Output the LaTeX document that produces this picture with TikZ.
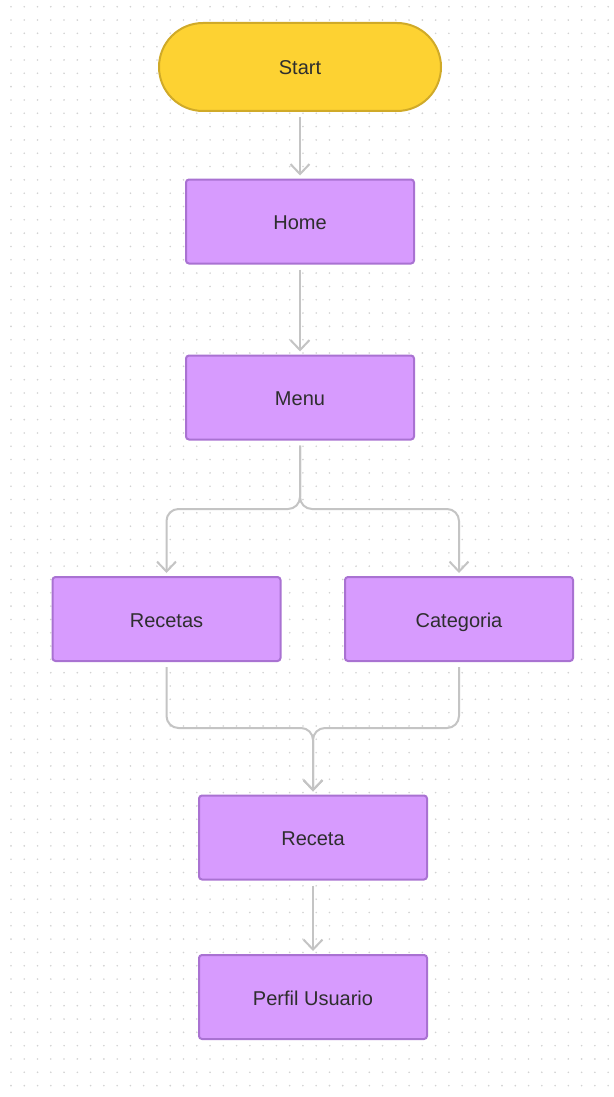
\documentclass[tikz,border=0pt]{standalone}
\usepackage{fontspec}
\setmainfont{Liberation Sans}
\usetikzlibrary{arrows.meta}
\definecolor{startfill}{HTML}{FDD232}
\definecolor{startline}{HTML}{D0AA28}
\definecolor{boxfill}{HTML}{D79BFE}
\definecolor{boxline}{HTML}{A972D2}
\definecolor{linkgray}{HTML}{C4C4C4}
\definecolor{dotgray}{HTML}{D2D2D2}
\definecolor{labelgray}{HTML}{2E2E2E}
\tikzset{
  labeltext/.style={font=\fontsize{20}{24}\selectfont, text=labelgray,
    text height=16pt, text depth=0pt},
  stepbox/.style={draw=boxline, fill=boxfill, line width=2pt, rounded corners=3pt,
    minimum width=228pt, minimum height=84pt, inner sep=0pt, labeltext},
  startbox/.style={draw=startline, fill=startfill, line width=2pt, rounded corners=44pt,
    minimum width=282pt, minimum height=88pt, inner sep=0pt, labeltext},
  link/.style={draw=linkgray, line width=2pt, rounded corners=12pt,
    -{Straight Barb[length=10pt,width=19pt]}, shorten <=5pt, shorten >=3pt}
}
\begin{document}
\begin{tikzpicture}[x=1pt, y=-1pt]
  % canvas and dot grid
  \fill[white] (0,0) rectangle (613,1097);
  \useasboundingbox (0,0) rectangle (613,1097);
  \foreach \i in {0,...,45} {
    \foreach \j in {0,...,81} {
      \fill[dotgray] (11+13.27*\i, 6.7+13.32*\j) circle (0.9pt);
    }
  }

  % nodes
  \node[startbox] (start) at (300,67) {Start};
  \node[stepbox] (home) at (300,221.5) {Home};
  \node[stepbox] (menu) at (300,397.5) {Menu};
  \node[stepbox] (recetas) at (166.5,619) {Recetas};
  \node[stepbox] (categoria) at (459,619) {Categoria};
  \node[stepbox] (receta) at (313,837.5) {Receta};
  \node[stepbox] (perfil) at (313,997) {Perfil Usuario};

  % branch and merge points
  \coordinate (split) at (300,509);
  \coordinate (merge) at (313,728);

  % connectors
  \draw[link] (start) -- (home);
  \draw[link] (home) -- (menu);
  \draw[link] (menu.south) -- (split) -- (split -| recetas) -- (recetas.north);
  \draw[link] (menu.south) -- (split) -- (split -| categoria) -- (categoria.north);
  \draw[link] (recetas.south) -- (recetas.south |- merge) -- (merge) -- (receta.north);
  \draw[link] (categoria.south) -- (categoria.south |- merge) -- (merge) -- (receta.north);
  \draw[link] (receta) -- (perfil);
\end{tikzpicture}
\end{document}
